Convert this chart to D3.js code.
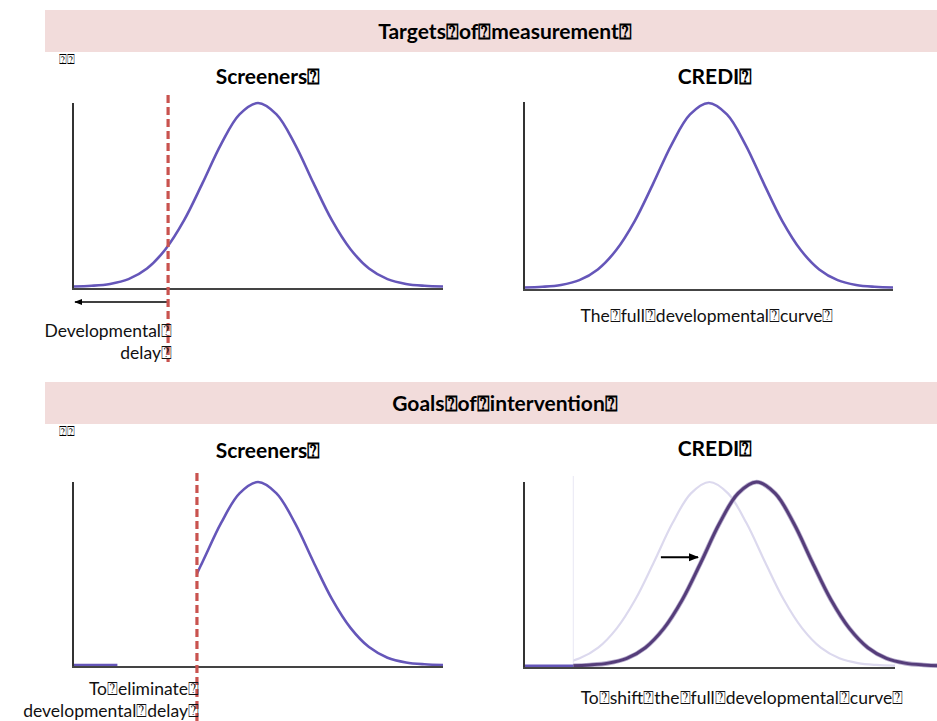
<!DOCTYPE html>
<html><head><meta charset="utf-8">
<script src="https://cdn.jsdelivr.net/npm/d3@7/dist/d3.min.js"></script>
<style>
html,body{margin:0;padding:0;background:#fff;}
svg{display:block;font-family:Lato,"Open Sans",sans-serif;}
</style></head>
<body><svg id="c" width="937" height="721"></svg>
<script>
// ---- data ----
const B = "\u2370"; // missing-glyph box as seen in the reference
const bannerTitles = ["Targets" + B + "of" + B + "measurement" + B, "Goals" + B + "of" + B + "intervention" + B];
const panelTitles = ["Screeners" + B, "CREDI" + B, "Screeners" + B, "CREDI" + B];
const captions = [["Developmental" + B, "delay" + B], ["The" + B + "full" + B + "developmental" + B + "curve" + B],
                  ["To" + B + "eliminate" + B, "developmental" + B + "delay" + B], ["To" + B + "shift" + B + "the" + B + "full" + B + "developmental" + B + "curve" + B]];
// developmental score (0-100 on each axis) and relative density
const scoreX   = [0, 5, 10, 15, 20, 25, 30, 35, 40, 45, 50, 55, 60, 65, 70, 75, 80, 85, 90, 95, 100];
const density  = [0, 0.004, 0.014, 0.04, 0.098, 0.203, 0.36, 0.563, 0.775, 0.938, 1, 0.938, 0.775, 0.563, 0.36, 0.203, 0.098, 0.04, 0.014, 0.004, 0];
const screenerCutoffs = [25.7, 33.5];   // dashed line: top, bottom
const crediShift = 12.7;                 // shift of the curve in "Goals" panel
const crediStart = 13.3;                 // where the faint curve begins
const residualDelayEnd = 12;             // small residual tail in bottom-left panel
const shiftArrow = [36.9, 46.9, 0.59];   // from, to, height

const svg = d3.select("#c");
const purple = "#6556b9";
const dashRed = "#c9534f";

// banners
[[10, 52], [382, 424]].forEach((b, i) => {
  svg.append("rect").attr("x", 45).attr("y", b[0]).attr("width", 892).attr("height", b[1] - b[0]).attr("fill", "#f2dcdb");
  svg.append("text").attr("x", 505).attr("y", b[0] + 29).attr("text-anchor", "middle")
    .attr("font-weight", "bold").attr("font-size", 21).attr("fill", "#000").text(bannerTitles[i]);
  svg.append("text").attr("x", 59).attr("y", b[1] + 12).attr("font-size", 13).attr("fill", "#000").text(B + B);
});

// panel geometry
const panels = [
  {ax: 73, axEnd: 443, axTop: 103, axY: 289, base: 286.5, peak: 103, tx: 268, ty: 84},
  {ax: 524, axEnd: 893, axTop: 102, axY: 290, base: 287.5, peak: 103, tx: 715, ty: 84},
  {ax: 73, axEnd: 443, axTop: 482, axY: 667, base: 665, peak: 482, tx: 268, ty: 458},
  {ax: 524, axEnd: 895, axTop: 482, axY: 668, base: 665.7, peak: 482, tx: 715, ty: 456}
];
const pts = scoreX.map((x, i) => [x, density[i]]);

svg.append("defs").append("marker").attr("id", "ah").attr("viewBox", "0 0 10 10").attr("refX", 9).attr("refY", 5)
  .attr("markerWidth", 5).attr("markerHeight", 5).attr("markerUnits", "strokeWidth").attr("orient", "auto")
  .append("path").attr("d", "M0,1 L10,5 L0,9 Z").attr("fill", "#000");
const blur = svg.select("defs").append("filter").attr("id", "bl").attr("x", "-5%").attr("y", "-5%").attr("width", "110%").attr("height", "110%");
blur.append("feGaussianBlur").attr("stdDeviation", 0.7);

panels.forEach((p, i) => {
  const g = svg.append("g");
  const x = d3.scaleLinear().domain([0, 100]).range([p.ax, p.axEnd]);
  const y = d3.scaleLinear().domain([0, 1]).range([p.base, p.peak]);
  const line = d3.line().x(d => x(d[0])).y(d => y(d[1])).curve(d3.curveCatmullRom.alpha(0.5));

  svg.append("text").attr("x", p.tx).attr("y", p.ty).attr("text-anchor", "middle")
    .attr("font-weight", "bold").attr("font-size", 21).attr("fill", "#000").text(panelTitles[i]);

  const clipId = "clip" + i;
  if (i === 0 || i === 1) {
    g.append("path").datum(pts).attr("d", line).attr("fill", "none").attr("stroke", purple).attr("stroke-width", 2.6);
  } else if (i === 2) {
    svg.select("defs").append("clipPath").attr("id", clipId).append("rect")
      .attr("x", x(screenerCutoffs[1])).attr("y", 0).attr("width", 900).attr("height", 721);
    g.append("path").datum(pts).attr("d", line).attr("fill", "none").attr("stroke", purple).attr("stroke-width", 2.6)
      .attr("clip-path", "url(#" + clipId + ")");
    g.append("line").attr("x1", x(0)).attr("x2", x(residualDelayEnd)).attr("y1", y(0)).attr("y2", y(0))
      .attr("stroke", purple).attr("stroke-width", 2.6);
  } else {
    svg.select("defs").append("clipPath").attr("id", clipId).append("rect")
      .attr("x", x(crediStart)).attr("y", 0).attr("width", 900).attr("height", 721);
    g.append("line").attr("x1", x(crediStart)).attr("x2", x(crediStart)).attr("y1", p.axTop - 6).attr("y2", p.axY)
      .attr("stroke", "#ecebf6").attr("stroke-width", 1.2);
    g.append("line").attr("x1", x(0)).attr("x2", x(crediStart)).attr("y1", y(0)).attr("y2", y(0))
      .attr("stroke", purple).attr("stroke-width", 2.6);
    g.append("path").datum(pts).attr("d", line).attr("fill", "none").attr("stroke", "#dcd9ee").attr("stroke-width", 2.2)
      .attr("clip-path", "url(#" + clipId + ")");
    const shifted = pts.map(d => [d[0] + crediShift, d[1]]).concat([[113, 0], [120, 0]]);
    g.append("path").datum(shifted).attr("d", line).attr("fill", "none").attr("stroke", "#b5aacb").attr("stroke-width", 4.6)
      .attr("clip-path", "url(#" + clipId + ")").attr("filter", "url(#bl)");
    g.append("path").datum(shifted).attr("d", line).attr("fill", "none").attr("stroke", "#553d7a").attr("stroke-width", 3)
      .attr("clip-path", "url(#" + clipId + ")").attr("filter", "url(#bl)");
    g.append("line").attr("x1", x(shiftArrow[0])).attr("x2", x(shiftArrow[1])).attr("y1", y(shiftArrow[2])).attr("y2", y(shiftArrow[2]))
      .attr("stroke", "#000").attr("stroke-width", 2).attr("marker-end", "url(#ah)");
  }

  // axes
  g.append("line").attr("x1", p.ax).attr("x2", p.ax).attr("y1", p.axTop).attr("y2", p.axY).attr("stroke", "#333").attr("stroke-width", 2);
  g.append("line").attr("x1", p.ax - 1).attr("x2", p.axEnd).attr("y1", p.axY).attr("y2", p.axY).attr("stroke", "#444").attr("stroke-width", 2);

  if (i === 0) {
    g.append("line").attr("x1", x(screenerCutoffs[0])).attr("x2", x(0) + 2).attr("y1", 302).attr("y2", 302)
      .attr("stroke", "#000").attr("stroke-width", 1.6).attr("marker-end", "url(#ah)");
    g.append("line").attr("x1", x(screenerCutoffs[0])).attr("x2", x(screenerCutoffs[0])).attr("y1", 95).attr("y2", 362)
      .attr("stroke", dashRed).attr("stroke-width", 3.2).attr("stroke-dasharray", "8,4");
  }
  if (i === 2) {
    g.append("line").attr("x1", x(screenerCutoffs[1])).attr("x2", x(screenerCutoffs[1])).attr("y1", 473).attr("y2", 721)
      .attr("stroke", dashRed).attr("stroke-width", 3.2).attr("stroke-dasharray", "8,4");
  }
});

// captions
const cap = (t, xx, yy, anchor) => svg.append("text").attr("x", xx).attr("y", yy).attr("text-anchor", anchor)
  .attr("font-size", 17.5).attr("fill", "#111").text(t);
cap(captions[0][0], 172, 337, "end");
cap(captions[0][1], 172, 359, "end");
cap(captions[1][0], 707, 322, "middle");
cap(captions[2][0], 199, 695, "end");
cap(captions[2][1], 199, 717, "end");
cap(captions[3][0], 742, 704, "middle");
</script></body></html>
